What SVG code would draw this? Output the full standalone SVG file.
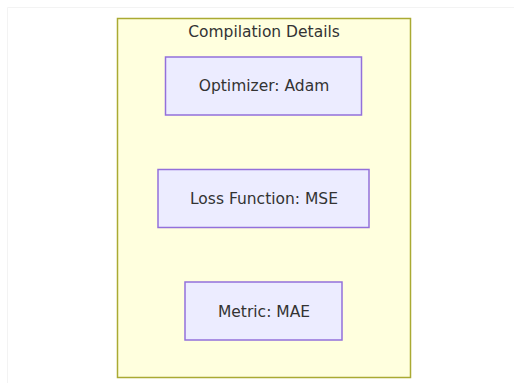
<svg xmlns="http://www.w3.org/2000/svg" width="514" height="383" viewBox="0 0 514 383">
<style>
.cluster{fill:#ffffde;stroke:#aaaa33;stroke-width:1.5}
.node rect{fill:#ececff;stroke:#9370db;stroke-width:1.5}
text{font-family:"DejaVu Sans","Liberation Sans",sans-serif;font-size:15.5px;fill:#333333;text-anchor:middle}
</style>
<rect width="514" height="383" fill="#ffffff"/>
<path d="M7.5 383V7.5H514" fill="none" stroke="#f3f3f3" stroke-width="1"/>
<g id="cluster-compilation">
<rect class="cluster" x="117.5" y="18.5" width="293" height="359"/>
<text x="264" y="37">Compilation Details</text>
</g>
<g id="connectors"></g>
<g id="optimizer" class="node">
<rect x="165.5" y="57" width="196" height="58"/>
<text x="264" y="91">Optimizer: Adam</text>
</g>
<g id="loss" class="node">
<rect x="158" y="169.5" width="211" height="58"/>
<text x="264" y="204">Loss Function: MSE</text>
</g>
<g id="metric" class="node">
<rect x="185" y="282" width="157" height="58"/>
<text x="264" y="316.5">Metric: MAE</text>
</g>
</svg>
